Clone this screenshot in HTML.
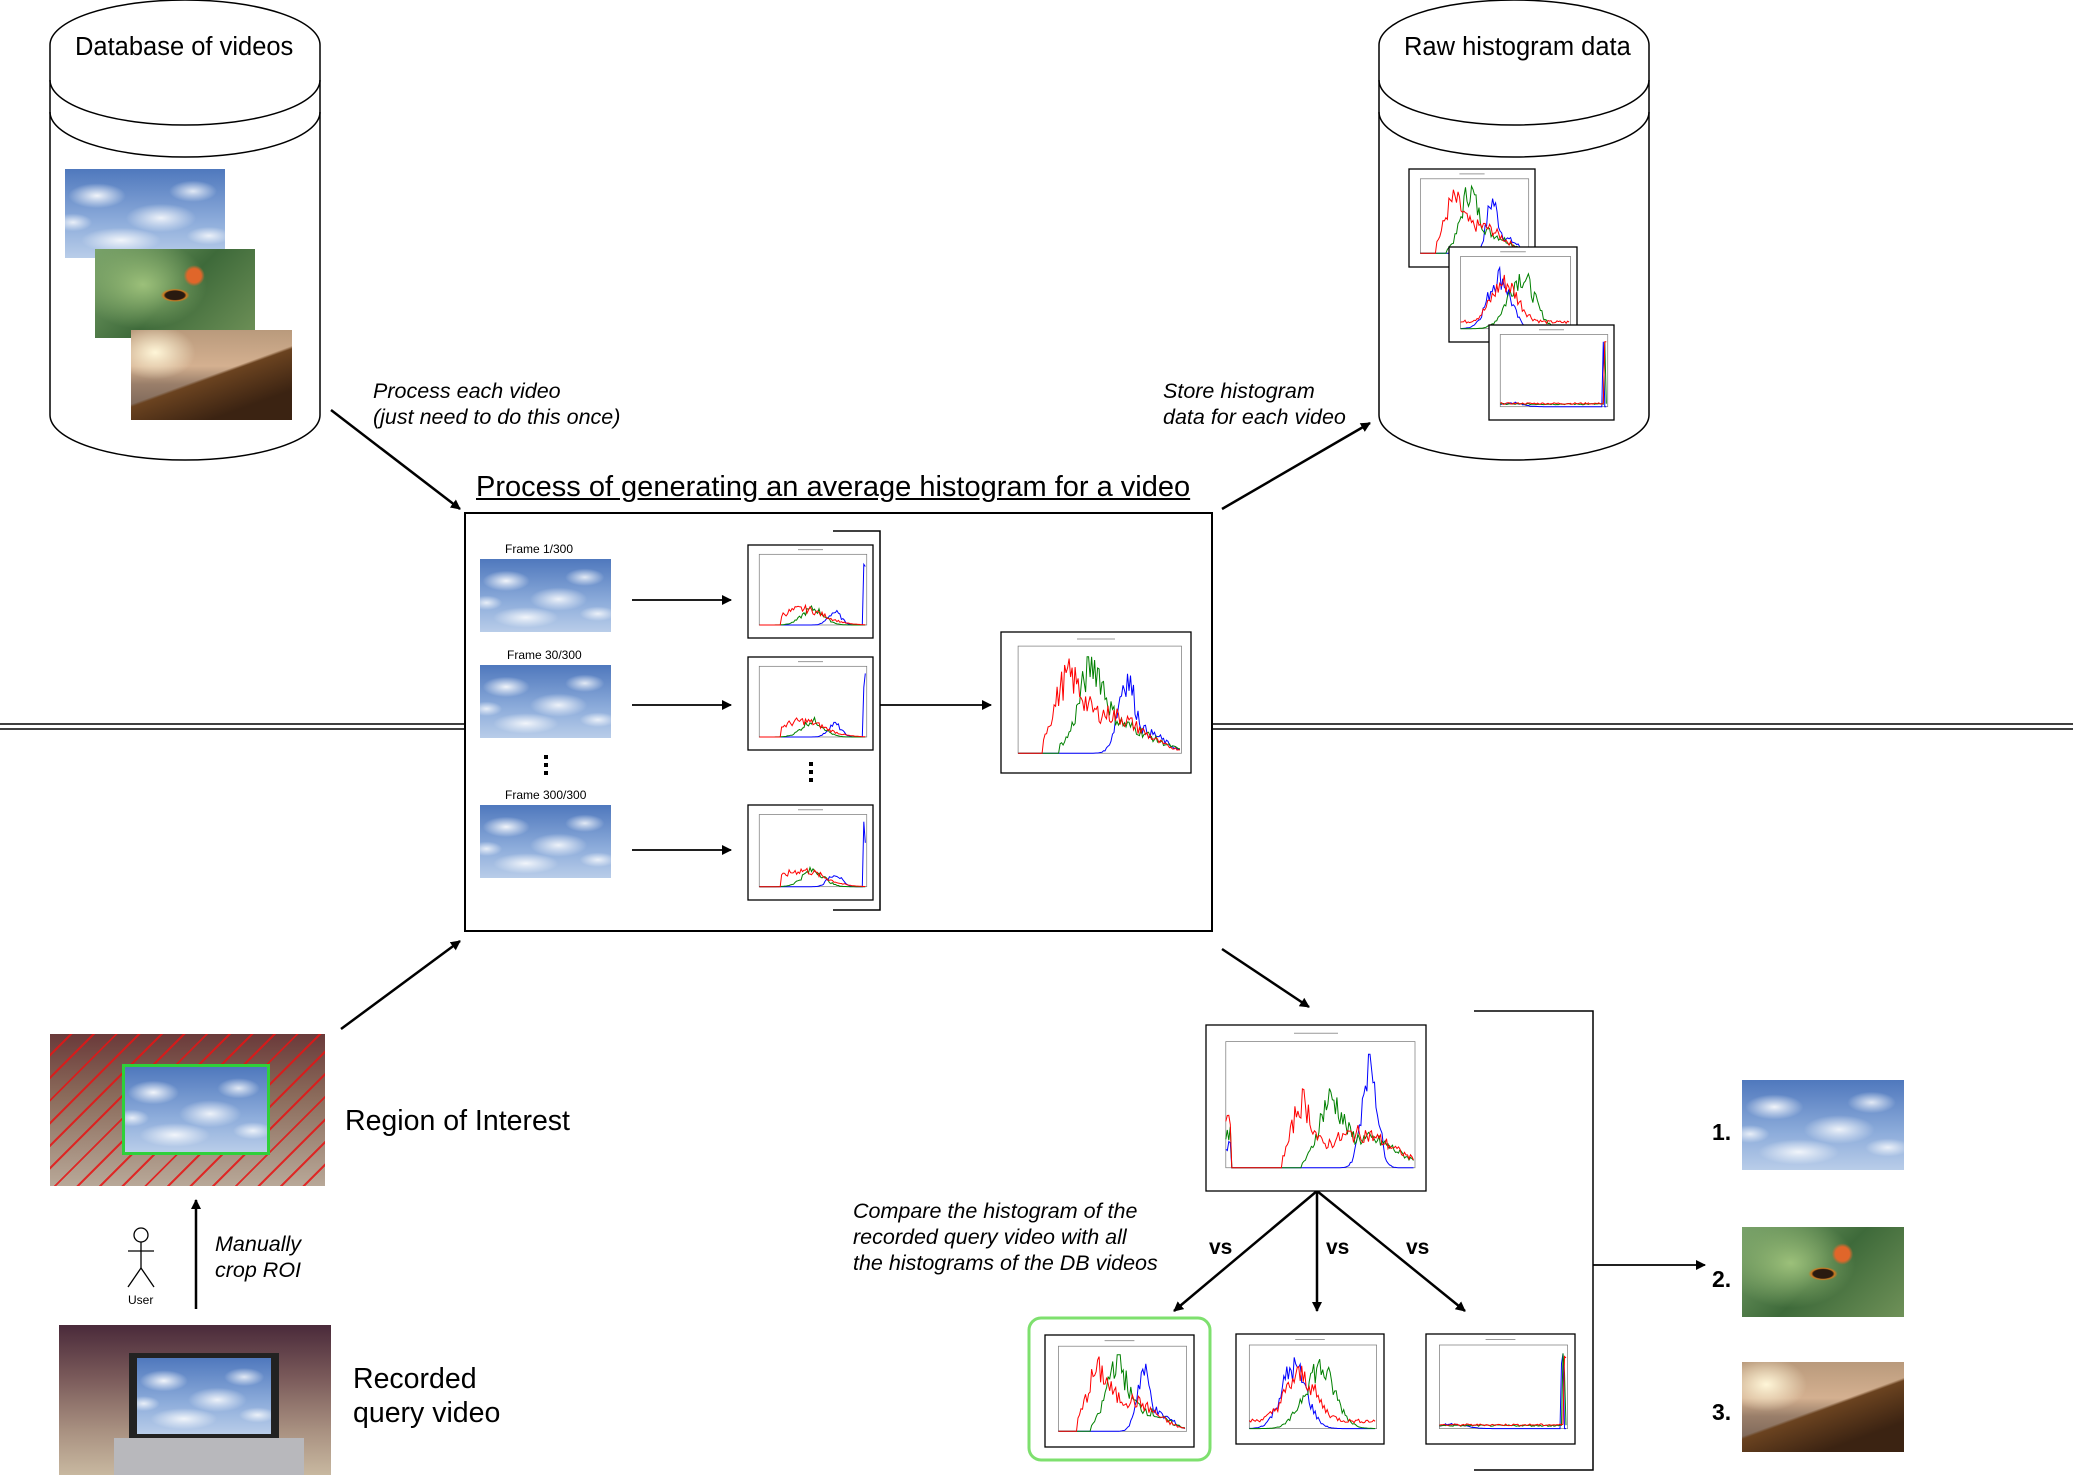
<!DOCTYPE html>
<html><head><meta charset="utf-8">
<style>
body{margin:0;background:#fff;}
#c{position:relative;width:2073px;height:1478px;overflow:hidden;font-family:"Liberation Sans",sans-serif;background:#fff}
.t{position:absolute;color:#000;white-space:nowrap}
.it{font-style:italic;font-size:21.5px;line-height:26px}
.img{position:absolute;overflow:hidden}
.sky{background:
radial-gradient(ellipse 18% 14% at 20% 30%,rgba(255,255,255,.9),transparent),
radial-gradient(ellipse 22% 16% at 60% 55%,rgba(255,255,255,.85),transparent),
radial-gradient(ellipse 15% 12% at 80% 25%,rgba(255,255,255,.8),transparent),
radial-gradient(ellipse 25% 14% at 35% 80%,rgba(255,255,255,.85),transparent),
radial-gradient(ellipse 14% 10% at 90% 75%,rgba(255,255,255,.8),transparent),
radial-gradient(ellipse 12% 10% at 5% 60%,rgba(255,255,255,.8),transparent),
linear-gradient(#4f78bd,#8eaddb 60%,#b9cde9);}
.bfly{background:
radial-gradient(circle at 62% 30%,#e0662a 0 6%,transparent 9%),
radial-gradient(ellipse 12% 10% at 50% 52%,#2a1a10 0 50%,#d07a20 60%,transparent 75%),
radial-gradient(ellipse 40% 50% at 30% 40%,#9cc07a,transparent),
linear-gradient(135deg,#7aa36a,#3e6a3a 50%,#6f9158);}
.rock{background:
radial-gradient(ellipse 25% 30% at 15% 25%,#fff6d8,transparent),
linear-gradient(160deg,transparent 50%,#6b4320 52%,#3b2312 80%),
linear-gradient(#b99a7c,#d4b090 40%,#9a7f6a 60%,#6d5a50);}
</style></head><body>
<div id="c">
<svg id="s" width="2073" height="1478" style="position:absolute;left:0;top:0">
<defs><marker id="a" markerWidth="10" markerHeight="10" refX="9" refY="5" orient="auto" markerUnits="userSpaceOnUse"><path d="M0,0 L10,5 L0,10 z" fill="#000"/></marker></defs>
<g fill="none" stroke="#000" stroke-width="1.5">
<path d="M50,45 A135,45 0 0 1 320,45 L320,415 A135,45 0 0 1 50,415 Z" fill="#fff"/>
<path d="M50,80 A135,45 0 0 0 320,80"/><path d="M50,112 A135,45 0 0 0 320,112"/>
<path d="M1379,45 A135,45 0 0 1 1649,45 L1649,415 A135,45 0 0 1 1379,415 Z" fill="#fff"/>
<path d="M1379,80 A135,45 0 0 0 1649,80"/><path d="M1379,112 A135,45 0 0 0 1649,112"/>
<line x1="0" y1="724" x2="465" y2="724"/><line x1="0" y1="729" x2="465" y2="729"/>
<line x1="1212" y1="724" x2="2073" y2="724"/><line x1="1212" y1="729" x2="2073" y2="729"/>
<rect x="465" y="513" width="747" height="418" stroke-width="2"/>
<path d="M833,531 L880,531 L880,910 L833,910"/>
<path d="M1474,1011 L1593,1011 L1593,1470 L1474,1470"/>
<rect x="1029" y="1318" width="181" height="142" rx="12" stroke="#7ee06e" stroke-width="3"/>
</g>
<g stroke="#000" stroke-width="2.5" marker-end="url(#a)">
<line x1="331" y1="410" x2="460" y2="509"/>
<line x1="1222" y1="509" x2="1370" y2="423"/>
<line x1="341" y1="1029" x2="460" y2="941"/>
<line x1="1222" y1="949" x2="1309" y2="1007"/>
<line x1="196" y1="1309" x2="196" y2="1200"/>
<line x1="1317" y1="1191" x2="1174" y2="1311"/>
<line x1="1317" y1="1191" x2="1317" y2="1311"/>
<line x1="1317" y1="1191" x2="1465" y2="1311"/>
</g>
<g stroke="#000" stroke-width="1.8" marker-end="url(#a)">
<line x1="632" y1="600" x2="731" y2="600"/>
<line x1="632" y1="705" x2="731" y2="705"/>
<line x1="632" y1="850" x2="731" y2="850"/>
<line x1="880" y1="705" x2="991" y2="705"/>
<line x1="1593" y1="1265" x2="1705" y2="1265"/>
</g>
<g stroke="#000" stroke-width="1.3" fill="none">
<circle cx="141" cy="1235" r="7"/><line x1="141" y1="1242" x2="141" y2="1268"/>
<line x1="128" y1="1251" x2="154" y2="1251"/><line x1="141" y1="1268" x2="128" y2="1287"/><line x1="141" y1="1268" x2="154" y2="1287"/>
</g>
<g fill="#000">
<rect x="544" y="755" width="4" height="4"/><rect x="544" y="763" width="4" height="4"/><rect x="544" y="771" width="4" height="4"/>
<rect x="809" y="762" width="4" height="4"/><rect x="809" y="770" width="4" height="4"/><rect x="809" y="778" width="4" height="4"/>
</g>
<g id="h"></g>
</svg>

<div class="img sky" style="left:65px;top:169px;width:160px;height:89px"></div>
<div class="img bfly" style="left:95px;top:249px;width:160px;height:89px"></div>
<div class="img rock" style="left:131px;top:330px;width:161px;height:90px"></div>

<div class="img sky" style="left:480px;top:559px;width:131px;height:73px"></div>
<div class="img sky" style="left:480px;top:665px;width:131px;height:73px"></div>
<div class="img sky" style="left:480px;top:805px;width:131px;height:73px"></div>

<div class="img sky" style="left:1742px;top:1080px;width:162px;height:90px"></div>
<div class="img bfly" style="left:1742px;top:1227px;width:162px;height:90px"></div>
<div class="img rock" style="left:1742px;top:1362px;width:162px;height:90px"></div>

<div class="img" style="left:50px;top:1034px;width:275px;height:152px;background:linear-gradient(#6a3a3a,#8a6a5a 40%,#b8a898);">
 <div class="img" style="left:0;top:0;width:275px;height:152px;background:repeating-linear-gradient(135deg,transparent 0 14px,rgba(230,20,20,.85) 14px 16px)"></div>
 <div class="img sky" style="left:72px;top:30px;width:142px;height:85px;border:3px solid #2fd03a"></div>
</div>
<div class="img" style="left:59px;top:1325px;width:272px;height:150px;background:linear-gradient(#4a2a3a,#7a5a5a 35%,#a89080 70%,#c8b8a0);">
 <div class="img" style="left:70px;top:28px;width:150px;height:85px;background:#222"></div>
 <div class="img sky" style="left:78px;top:33px;width:134px;height:76px"></div>
 <div class="img" style="left:55px;top:113px;width:190px;height:37px;background:#b8b8bc"></div>
</div>

<div class="t" style="left:75px;top:33px;font-size:25.5px">Database of videos</div>
<div class="t" style="left:1404px;top:33px;font-size:25.5px">Raw histogram data</div>
<div class="t it" style="left:373px;top:378px">Process each video<br>(just need to do this once)</div>
<div class="t it" style="left:1163px;top:378px">Store histogram<br>data for each video</div>
<div class="t" style="left:476px;top:471px;font-size:29px;text-decoration:underline">Process of generating an average histogram for a video</div>
<div class="t" style="left:505px;top:542px;font-size:12px">Frame 1/300</div>
<div class="t" style="left:507px;top:648px;font-size:12px">Frame 30/300</div>
<div class="t" style="left:505px;top:788px;font-size:12px">Frame 300/300</div>
<div class="t" style="left:345px;top:1105px;font-size:28.5px">Region of Interest</div>
<div class="t" style="left:353px;top:1362px;font-size:28.5px;line-height:34px">Recorded<br>query video</div>
<div class="t it" style="left:215px;top:1231px">Manually<br>crop ROI</div>
<div class="t" style="left:128px;top:1293px;font-size:12px">User</div>
<div class="t it" style="left:853px;top:1198px">Compare the histogram of the<br>recorded query video with all<br>the histograms of the DB videos</div>
<div class="t" style="left:1209px;top:1236px;font-size:21px;font-weight:bold">vs</div>
<div class="t" style="left:1326px;top:1236px;font-size:21px;font-weight:bold">vs</div>
<div class="t" style="left:1406px;top:1236px;font-size:21px;font-weight:bold">vs</div>
<div class="t" style="left:1712px;top:1119px;font-size:23px;font-weight:bold">1.</div>
<div class="t" style="left:1712px;top:1266px;font-size:23px;font-weight:bold">2.</div>
<div class="t" style="left:1712px;top:1399px;font-size:23px;font-weight:bold">3.</div>
</div>
<script>
var g=document.getElementById('h');
var seed=7;function r(){seed=(seed*9301+49297)%233280;return seed/233280;}
function curve(f,n){var a=[];for(var i=0;i<n;i++){a.push(f(i/n)*(0.75+0.5*r()));}return a;}
function g1(x,m,s){return Math.exp(-((x-m)*(x-m))/(2*s*s));}
var types={
sky:[function(x){return x<0.15?0:0.6*g1(x,0.3,0.08)+0.4*g1(x,0.55,0.2)},function(x){return x<0.25?0:0.7*g1(x,0.45,0.07)+0.3*g1(x,0.6,0.2)},function(x){return x<0.4?0:0.7*g1(x,0.66,0.05)+0.2*g1(x,0.8,0.1)}],
bfly:[function(x){return 0.6*g1(x,0.4,0.12)+0.1},function(x){return 0.8*g1(x,0.55,0.12)},function(x){return 0.8*g1(x,0.35,0.1)}],
rock:[function(x){return 0.05+ (x>0.97?1:0)},function(x){return 0.04+(x>0.96&&x<0.98?0.9:0)},function(x){return 0.06*g1(x,0.1,0.1)+(x>0.95&&x<0.97?0.95:0)}],
frame:[function(x){return x<0.2?0:0.25*g1(x,0.4,0.2)},function(x){return 0.25*g1(x,0.5,0.1)},function(x){return 0.2*g1(x,0.7,0.06)+(x>0.97?0.9:0)}],
query:[function(x){return (x<0.03?0.5:0)+(x<0.3?0:0.5*g1(x,0.4,0.05)+0.3*g1(x,0.7,0.18))},function(x){return (x<0.03?0.3:0)+(x<0.4?0:0.5*g1(x,0.55,0.06)+0.25*g1(x,0.75,0.15))},function(x){return (x<0.03?0.2:0)+(x<0.55?0:0.95*g1(x,0.76,0.04))}]
};
function hist(x,y,w,h,t){
 var s='<rect x="'+x+'" y="'+y+'" width="'+w+'" height="'+h+'" fill="#fff" stroke="#000" stroke-width="1.3"/>';
 var ax=x+w*0.09,ay=y+h*0.1,aw=w*0.86,ah=h*0.76;
 s+='<rect x="'+ax+'" y="'+ay+'" width="'+aw+'" height="'+ah+'" fill="none" stroke="#777" stroke-width="0.7"/>';
 s+='<line x1="'+(x+w*0.4)+'" y1="'+(y+h*0.05)+'" x2="'+(x+w*0.6)+'" y2="'+(y+h*0.05)+'" stroke="#999" stroke-width="1"/>';
 var cols=['red','green','blue'],order=[2,1,0];
 var f=types[t];
 for(var k=0;k<3;k++){var c=order[k];var n=Math.max(40,Math.round(aw/1.5));var v=curve(f[c],n);var p='';
  for(var i=0;i<n;i++){p+=(ax+aw*i/n).toFixed(1)+','+(ay+ah-Math.min(1,v[i])*ah*0.9).toFixed(1)+' ';}
  s+='<polyline points="'+p+'" fill="none" stroke="'+cols[c]+'" stroke-width="1"/>';}
 return s;}
var H='';
H+=hist(1409,169,126,98,'sky');H+=hist(1449,247,128,95,'bfly');H+=hist(1489,325,125,95,'rock');
H+=hist(748,545,125,93,'frame');H+=hist(748,657,125,93,'frame');H+=hist(748,805,125,95,'frame');
H+=hist(1001,632,190,141,'sky');
H+=hist(1206,1025,220,166,'query');
H+=hist(1045,1335,149,112,'sky');H+=hist(1236,1334,148,110,'bfly');H+=hist(1426,1334,149,110,'rock');
g.innerHTML=H;
</script>
</body></html>
